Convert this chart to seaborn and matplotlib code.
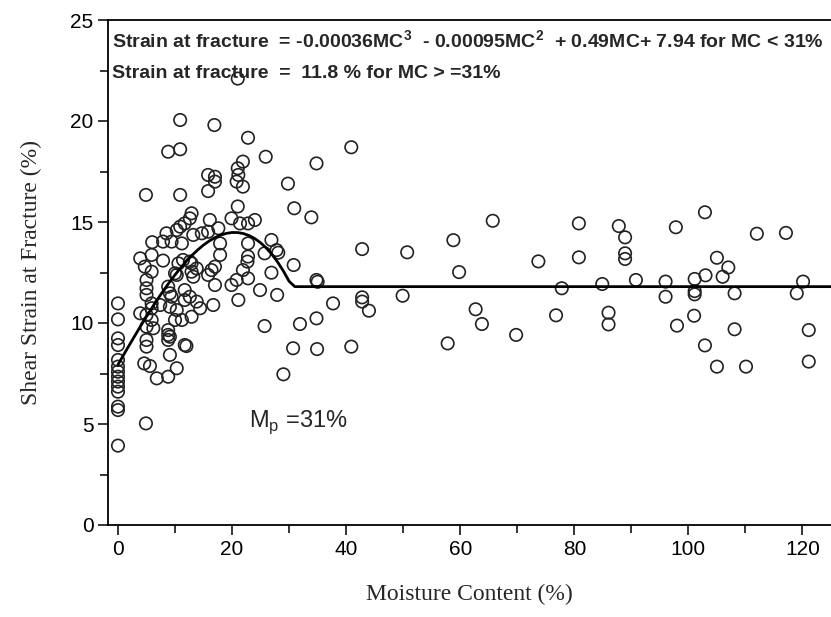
import numpy as np
import pandas as pd
import matplotlib
matplotlib.use("Agg")
import matplotlib.pyplot as plt
import seaborn as sns
from matplotlib.ticker import MultipleLocator

# ---- data ----
mc_low = [0, 0, 0, 0, 0, 0, 0, 0, 0, 0, 0, 0, 0, 0,
          4.9, 4.9, 3.9, 4.7, 5.9, 5.0, 5.0, 5.0, 5.9, 3.9, 5.0, 5.0, 6.2, 5.0, 5.0, 4.6, 5.6, 6.8,
          6.0, 5.9, 5.9, 5.9,
          7.9, 10.6, 10.3, 8.8, 9.4, 7.4, 10.3, 10.0, 11.2, 8.8, 8.8, 8.8, 11.7, 9.1, 10.3, 8.8,
          11.4, 12.9, 13.2, 11.7, 13.8, 12.9, 14.4, 11.7, 16.4, 17.0, 16.7, 17.9,
          10.9, 16.9, 8.8, 10.9, 15.8, 17.0, 17.0, 15.8, 10.9, 12.9, 12.6, 11.7, 16.1, 17.6,
          10.3, 8.5, 9.4, 11.2, 13.2, 14.7, 15.8, 7.9, 10.9, 17.9, 12.6, 13.8, 15.8, 17.0,
          10.0, 12.9, 12.6, 9.1, 9.1, 12.0, 9.1]
sf_low = [10.97, 10.18, 9.24, 8.91, 8.17, 7.84, 7.59, 7.34, 7.10, 6.85, 6.60, 5.86, 5.69, 3.93,
          16.34, 5.03, 13.2, 12.79, 13.37, 12.13, 11.72, 11.39, 10.97, 10.48, 10.4, 9.82, 9.74, 9.16, 8.83, 8.0, 7.87, 7.26,
          14.0, 12.54, 10.73, 10.15,
          13.09, 12.95, 12.38, 11.8, 11.3, 10.89, 10.64, 10.15, 10.15, 9.65, 9.41, 9.16, 8.91, 8.42, 7.76, 7.34,
          13.12, 12.95, 12.29, 11.63, 11.06, 10.31, 10.73, 11.14, 12.62, 11.88, 10.89, 13.37,
          20.05, 19.8, 18.48, 18.6, 17.33, 17.24, 17.0, 16.53, 16.34, 15.43, 15.18, 14.93, 15.1, 14.69,
          14.6, 14.44, 14.03, 13.94, 14.36, 14.44, 14.52, 14.03, 14.77, 13.94, 13.04, 12.7, 12.38, 12.79,
          12.46, 12.54, 11.3, 11.47, 10.8, 8.86, 9.32]

mc_mid = [21.0, 22.8, 25.9, 34.8, 21.9, 21.0, 21.1, 20.8, 21.9, 29.8, 30.9, 33.9, 21.0, 19.9,
          21.4, 22.8, 24.0, 26.9, 27.8, 25.7, 22.8, 22.7, 22.8, 28.1, 30.8, 35.0, 34.8, 26.9,
          24.9, 27.9, 37.7, 25.7, 31.9, 34.8, 30.7, 34.9, 29.0, 19.9, 21.1, 22.8, 21.9, 20.8]
sf_mid = [22.1, 19.17, 18.23, 17.9, 17.99, 17.66, 17.33, 17.0, 16.75, 16.9, 15.68, 15.23, 15.77, 15.18,
          14.93, 14.93, 15.1, 14.11, 13.61, 13.45, 13.94, 13.04, 13.29, 13.48, 12.87, 12.04, 12.13, 12.49,
          11.63, 11.39, 10.97, 9.85, 9.95, 10.23, 8.75, 8.71, 7.46, 11.88, 11.14, 12.21, 12.62, 12.13]

mc_high = [40.9, 65.7, 80.8, 58.8, 42.8, 50.7, 59.8, 73.7, 80.8, 77.8, 42.8, 42.8, 44.0, 49.9,
           62.7, 63.8, 76.8, 69.8, 57.8, 40.9,
           87.8, 88.9, 88.9, 88.9, 97.8, 102.9, 112.0, 117.1, 105.0, 107.0, 106.0, 103.0, 101.1,
           101.1, 101.1, 96.0, 96.0, 90.8, 84.9, 86.0, 86.0, 108.1, 120.1, 119.0, 101.0, 98.0,
           108.1, 121.1, 102.9, 105.0, 110.1, 121.1]
sf_high = [18.7, 15.06, 14.93, 14.1, 13.66, 13.5, 12.52, 13.05, 13.25, 11.72, 11.27, 11.06, 10.61, 11.35,
           10.68, 9.95, 10.38, 9.41, 8.99, 8.83,
           14.8, 14.24, 13.45, 13.17, 14.74, 15.48, 14.42, 14.46, 13.23, 12.75, 12.29, 12.36, 12.18,
           11.58, 11.42, 12.05, 11.3, 12.13, 11.93, 10.51, 9.93, 11.47, 12.05, 11.47, 10.36, 9.87,
           9.69, 9.65, 8.89, 7.84, 7.84, 8.09]

# fitted model shown on the chart
cubic_coef = [-0.00036, -0.00095, 0.49, 7.94]
mp_value = 31
plateau = 11.8

x_ticks = [0, 20, 40, 60, 80, 100, 120]
y_ticks = [0, 5, 10, 15, 20, 25]

df = pd.DataFrame({"mc": mc_low + mc_mid + mc_high,
                   "sf": sf_low + sf_mid + sf_high})

# cubic evaluated at whole-percent steps up to 30, then the plateau from Mp on
xc = np.arange(0, mp_value, 1.0)
yc = np.polyval(cubic_coef, xc)
xf = np.array([mp_value, 125.0])
fit = pd.DataFrame({"mc": np.concatenate([xc, xf]),
                    "sf": np.concatenate([yc, [plateau, plateau]])})

# ---- styling ----
sns.set_style("ticks")
plt.rcParams["font.family"] = ["Liberation Sans", "DejaVu Sans"]

fig = plt.figure(figsize=(8.31, 6.17), dpi=100)
ax = fig.add_axes([108 / 831, 1 - 525 / 617, 1 - 108 / 831, (525 - 20) / 617])

sns.scatterplot(data=df, x="mc", y="sf", ax=ax, marker="o", s=80,
                facecolor="none", edgecolor="#222222", linewidth=1.2, legend=False)
sns.lineplot(data=fit, x="mc", y="sf", ax=ax, color="black", linewidth=2.0,
             sort=False, estimator=None)

ax.set_xlim(-1.75, 125)
ax.set_ylim(0, 25)
ax.set_xticks(x_ticks)
ax.set_yticks(y_ticks)
ax.xaxis.set_minor_locator(MultipleLocator(10))
ax.yaxis.set_minor_locator(MultipleLocator(2.5))
ax.tick_params(axis="both", which="both", direction="out", length=7, width=1.1,
               labelsize=15, colors="black", top=False, right=False)
ax.tick_params(axis="both", which="minor", length=6)

for side in ["left", "bottom", "top"]:
    ax.spines[side].set_visible(True)
    ax.spines[side].set_linewidth(1.3)
    ax.spines[side].set_color("black")
ax.spines["right"].set_visible(False)

serif = ["Liberation Serif", "DejaVu Serif"]
ax.set_xlabel("Moisture Content (%)", fontsize=17, family=serif, labelpad=18)
ax.set_ylabel("Shear Strain at Fracture (%)", fontsize=17, family=serif, labelpad=20)

sans = ["Liberation Sans", "DejaVu Sans"]
ax.text(0.006, 0.958,
        "Strain at fracture  = -0.00036MC$^{\\mathregular{3}}$  - 0.00095MC$^{\\mathregular{2}}$  + 0.49MC+ 7.94 for MC < 31%",
        transform=ax.transAxes, va="center", ha="left", fontsize=14, family=sans, fontweight="bold")
ax.text(0.006, 0.895, "Strain at fracture  =  11.8 % for MC > =31%",
        transform=ax.transAxes, va="center", ha="left", fontsize=14, family=sans, fontweight="bold")
ax.text(23, 5.1, "M$_{\\mathregular{p}}$ =31%", fontsize=17, family=sans,
        va="center", ha="left")

fig.savefig("out.png", dpi=100)
